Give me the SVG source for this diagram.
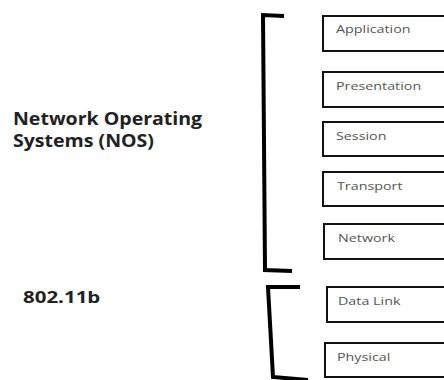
<svg xmlns="http://www.w3.org/2000/svg" width="444" height="380" viewBox="0 0 444 380">
  <style>
    .layer rect { fill: #ffffff; stroke: #111111; stroke-width: 2; }
    .layer text { font-family: "Open Sans", "Liberation Sans", sans-serif; font-size: 11px; fill: #555555; }
    .label { font-family: "Open Sans", "Liberation Sans", sans-serif; font-weight: bold; font-size: 17px; fill: #222222; }
    .bracket { fill: none; stroke: #000000; stroke-width: 4; stroke-linejoin: miter; stroke-linecap: butt; }
  </style>
  <rect width="444" height="380" fill="#ffffff"/>

  <!-- brackets grouping the layers -->
  <g id="connectors">
    <path class="bracket" d="M284,16 L263,15 L265,270 L292,271"/>
    <path class="bracket" d="M300,287 L268,287 L273,377 L308,380"/>
  </g>

  <!-- group labels (type is set slightly wide) -->
  <g id="nos-label">
    <text class="label" transform="translate(13,125) scale(1.15,1)">Network Operating</text>
    <text class="label" transform="translate(13,147) scale(1.15,1)">Systems (NOS)</text>
  </g>
  <g id="wifi-label">
    <text class="label" style="font-size:16px" transform="translate(23,303) scale(1.28,1)">802.11b</text>
  </g>

  <!-- OSI layers -->
  <g id="application" class="layer">
    <rect x="323" y="16" width="130" height="35"/>
    <text transform="translate(336,33) scale(1.3,1)">Application</text>
  </g>
  <g id="presentation" class="layer">
    <rect x="323" y="72" width="130" height="35"/>
    <text transform="translate(336,90) scale(1.3,1)">Presentation</text>
  </g>
  <g id="session" class="layer">
    <rect x="323" y="122" width="130" height="34"/>
    <text transform="translate(336,140) scale(1.3,1)">Session</text>
  </g>
  <g id="transport" class="layer">
    <rect x="323" y="172" width="130" height="34"/>
    <text transform="translate(337,190) scale(1.3,1)">Transport</text>
  </g>
  <g id="network" class="layer">
    <rect x="324" y="224" width="130" height="35"/>
    <text transform="translate(338,242) scale(1.3,1)">Network</text>
  </g>
  <g id="data-link" class="layer">
    <rect x="327" y="287" width="130" height="35"/>
    <text transform="translate(338,305) scale(1.3,1)">Data Link</text>
  </g>
  <g id="physical" class="layer">
    <rect x="325" y="343" width="130" height="34"/>
    <text transform="translate(337,361) scale(1.3,1)">Physical</text>
  </g>
</svg>
